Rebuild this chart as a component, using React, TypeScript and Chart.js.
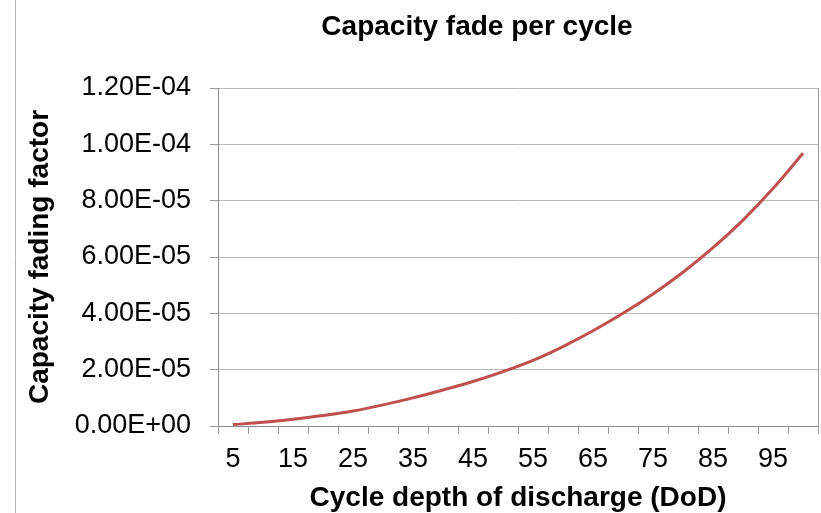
import React, { useEffect, useRef } from "react";
import { Chart, registerables } from "chart.js";

Chart.register(...registerables);

const chartTitle = "Capacity fade per cycle";
const xTitle = "Cycle depth of discharge (DoD)";
const yTitle = "Capacity fading factor";

const dodCategories = ["5", "10", "15", "20", "25", "30", "35", "40", "45", "50", "55", "60", "65", "70", "75", "80", "85", "90", "95", "100"];
const shownXTicks = ["5", "15", "25", "35", "45", "55", "65", "75", "85", "95"];
const fadeFactor = [
  5.0e-7, 1.3e-6, 2.4e-6, 3.7e-6, 5.3e-6, 7.5e-6, 1.0e-5, 1.28e-5, 1.58e-5, 1.93e-5,
  2.33e-5, 2.82e-5, 3.38e-5, 4.0e-5, 4.69e-5, 5.46e-5, 6.33e-5, 7.31e-5, 8.43e-5, 9.68e-5,
];
const yMin = 0;
const yMax = 1.2e-4;
const yStep = 2e-5;

const fmtExp = (v: number) => {
  if (Math.abs(v) < 1e-12) return "0.00E+00";
  const [m, e] = v.toExponential(2).split("e");
  const n = parseInt(e, 10);
  return `${m}E${n < 0 ? "-" : "+"}${String(Math.abs(n)).padStart(2, "0")}`;
};

const decorPlugin = {
  id: "decor",
  beforeDraw(chart: any) {
    const { ctx, height } = chart;
    ctx.save();
    ctx.strokeStyle = "#b4b4b4";
    ctx.lineWidth = 1;
    ctx.beginPath();
    ctx.moveTo(15.5, 0);
    ctx.lineTo(15.5, height);
    ctx.stroke();
    ctx.restore();
  },
  afterDraw(chart: any) {
    const { ctx } = chart;
    ctx.save();
    ctx.fillStyle = "#000";
    ctx.font = "bold 28px 'Liberation Sans', Arial, sans-serif";
    ctx.textAlign = "center";
    ctx.textBaseline = "middle";
    ctx.fillText(chartTitle, 477, 27);
    ctx.restore();
  },
};

export default function App() {
  const ref = useRef<HTMLCanvasElement | null>(null);
  useEffect(() => {
    if (!ref.current) return;
    const chart = new Chart(ref.current, {
      type: "line",
      data: {
        labels: dodCategories,
        datasets: [
          {
            label: "Capacity fading factor",
            data: fadeFactor,
            borderColor: "#c0504d",
            borderWidth: 3,
            pointRadius: 0,
            cubicInterpolationMode: "monotone",
            fill: false,
          },
        ],
      },
      plugins: [decorPlugin],
      options: {
        animation: false,
        responsive: false,
        layout: { padding: { top: 88, right: 3, left: 0, bottom: 0 } },
        plugins: {
          legend: { display: false },
          title: { display: false },
          tooltip: { enabled: false },
        },
        scales: {
          x: {
            type: "category",
            offset: true,
            afterFit: (s: any) => {
              s.height = 87;
            },
            grid: {
              offset: true,
              drawOnChartArea: true,
              tickLength: 8,
              color: (c: any) => (c.type === "scale" ? "#9a9a9a" : "rgba(0,0,0,0)"),
              tickColor: "#9a9a9a",
            },
            border: { display: true, color: "#8c8c8c", width: 1 },
            ticks: {
              autoSkip: false,
              maxRotation: 0,
              padding: 9,
              color: "#000",
              font: { family: "'Liberation Sans', Arial, sans-serif", size: 27 },
              callback: function (this: any, _v: any, i: number) {
                const lab = dodCategories[i];
                return shownXTicks.includes(lab) ? lab : "";
              },
            },
            title: {
              display: true,
              text: xTitle,
              color: "#000",
              padding: { top: 0, bottom: -2 },
              font: { family: "'Liberation Sans', Arial, sans-serif", size: 28, weight: "bold" },
            },
          },
          y: {
            min: yMin,
            max: yMax,
            afterFit: (s: any) => {
              s.width = 218;
            },
            grid: {
              color: "#b8b8b8",
              tickColor: "#9a9a9a",
              tickLength: 8,
            },
            border: { display: true, color: "#8c8c8c", width: 1 },
            ticks: {
              stepSize: yStep,
              padding: 19,
              color: "#000",
              font: { family: "'Liberation Sans', Arial, sans-serif", size: 27 },
              callback: (v: any) => fmtExp(Number(v)),
            },
            title: {
              display: true,
              text: yTitle,
              color: "#000",
              padding: { top: 23, bottom: 0 },
              font: { family: "'Liberation Sans', Arial, sans-serif", size: 28, weight: "bold" },
            },
          },
        },
      },
    } as any);
    return () => chart.destroy();
  }, []);
  return (
    <div style={{ position: "fixed", left: 0, top: 0, width: 821, height: 513, background: "#fff" }}>
      <canvas ref={ref} width={821} height={513} style={{ display: "block" }} />
    </div>
  );
}
